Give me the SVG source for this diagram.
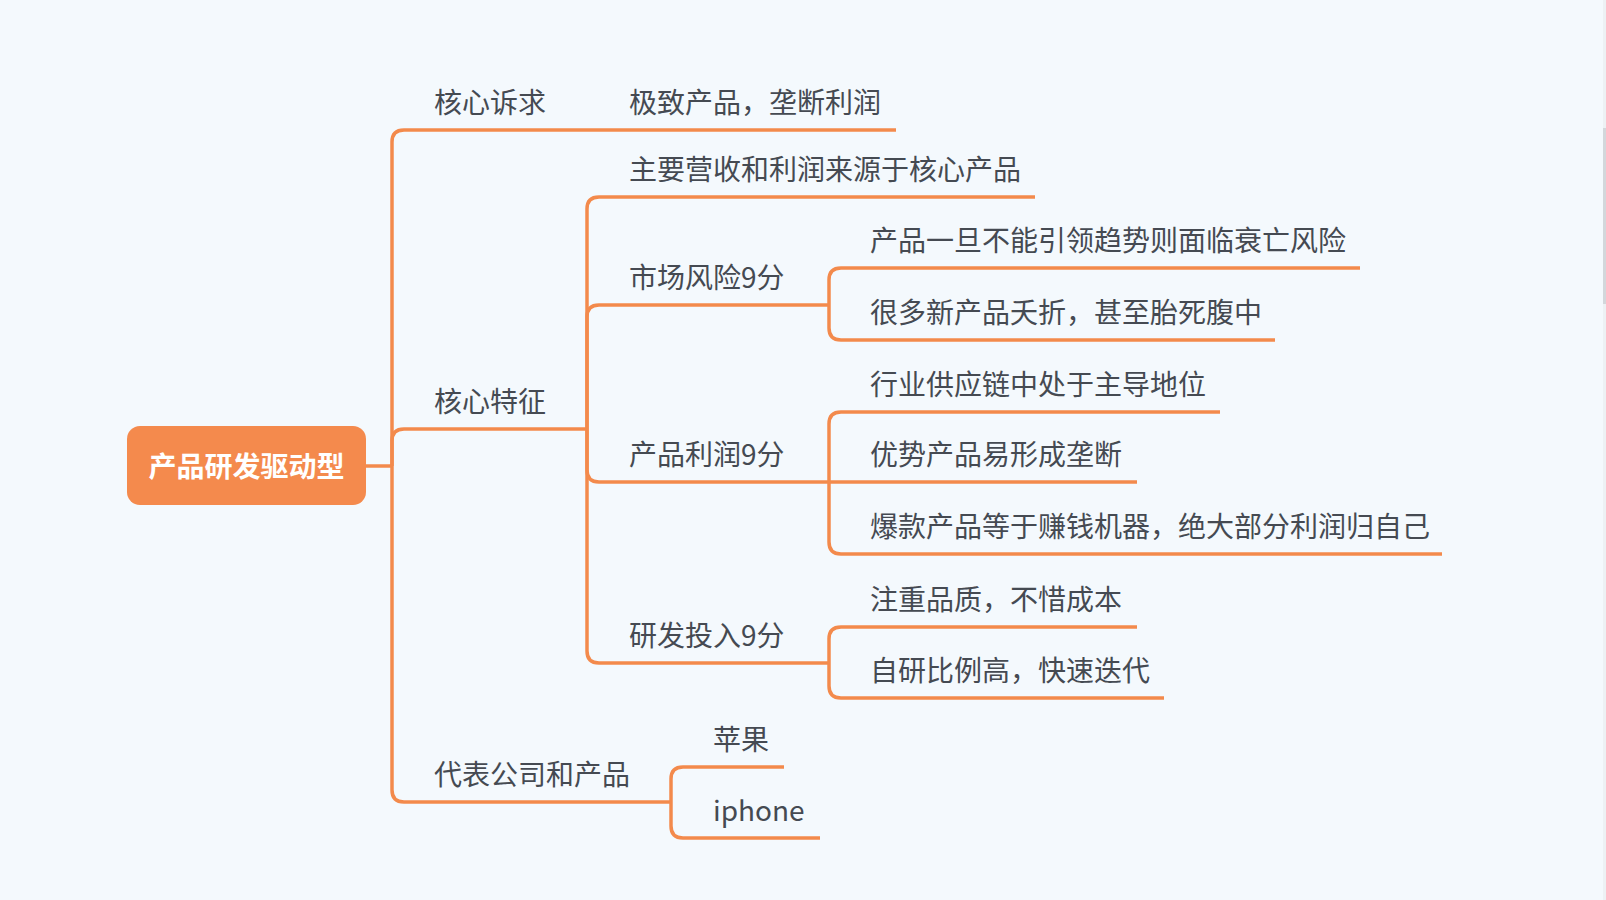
<svg xmlns="http://www.w3.org/2000/svg" width="1606" height="900" viewBox="0 0 1606 900">
<style>
.t{font-family:"Noto Sans CJK SC","Noto Sans",sans-serif;font-size:28px;fill:#454a52}
.r{font-family:"Noto Sans CJK SC","Noto Sans",sans-serif;font-size:28px;font-weight:bold;fill:#ffffff}
.c{fill:none;stroke:#F38A4C;stroke-width:3.5;stroke-linejoin:round}
</style>
<rect x="0" y="0" width="1606" height="900" fill="#F4F9FD"/>
<rect x="1603" y="0" width="3" height="900" fill="#EDF1F4"/>
<rect x="1603" y="128" width="3" height="176" fill="#D3D7DB"/>
<g id="connectors">
<path class="c" d="M366 466 L392 466"/>
<path class="c" d="M392 466 L392 142 Q392 130 404 130 L896 130"/>
<path class="c" d="M392 466 L392 441 Q392 429 404 429 L587 429"/>
<path class="c" d="M392 466 L392 790 Q392 802 404 802 L671 802"/>
<path class="c" d="M587 429 L587 209 Q587 197 599 197 L1035 197"/>
<path class="c" d="M587 429 L587 317 Q587 305 599 305 L829 305"/>
<path class="c" d="M587 429 L587 470 Q587 482 599 482 L829 482"/>
<path class="c" d="M587 429 L587 651 Q587 663 599 663 L829 663"/>
<path class="c" d="M829 305 L829 280 Q829 268 841 268 L1360 268"/>
<path class="c" d="M829 305 L829 328 Q829 340 841 340 L1275 340"/>
<path class="c" d="M829 482 L829 424 Q829 412 841 412 L1220 412"/>
<path class="c" d="M829 482 L1137 482"/>
<path class="c" d="M829 482 L829 542 Q829 554 841 554 L1442 554"/>
<path class="c" d="M829 663 L829 639 Q829 627 841 627 L1137 627"/>
<path class="c" d="M829 663 L829 686 Q829 698 841 698 L1164 698"/>
<path class="c" d="M671 802 L671 779 Q671 767 683 767 L784 767"/>
<path class="c" d="M671 802 L671 826 Q671 838 683 838 L820 838"/>
</g>
<g id="root">
<rect x="127" y="426" width="239" height="79" rx="13" fill="#F48A4D"/>
<text class="r" x="246.5" y="477" text-anchor="middle">产品研发驱动型</text>
</g>
<g id="n-hexinsuqiu"><text class="t" x="434" y="113">核心诉求</text></g>
<g id="n-jizhi"><text class="t" x="629" y="113">极致产品，垄断利润</text></g>
<g id="n-hexintezheng"><text class="t" x="434" y="412">核心特征</text></g>
<g id="n-zhuyao"><text class="t" x="629" y="180">主要营收和利润来源于核心产品</text></g>
<g id="n-shichang"><text class="t" x="629" y="288">市场风险9分</text></g>
<g id="n-chanpin1"><text class="t" x="870" y="251">产品一旦不能引领趋势则面临衰亡风险</text></g>
<g id="n-henduo"><text class="t" x="870" y="323">很多新产品夭折，甚至胎死腹中</text></g>
<g id="n-lirun"><text class="t" x="629" y="465">产品利润9分</text></g>
<g id="n-hangye"><text class="t" x="870" y="395">行业供应链中处于主导地位</text></g>
<g id="n-youshi"><text class="t" x="870" y="465">优势产品易形成垄断</text></g>
<g id="n-baokuan"><text class="t" x="870" y="537">爆款产品等于赚钱机器，绝大部分利润归自己</text></g>
<g id="n-yanfa"><text class="t" x="629" y="646">研发投入9分</text></g>
<g id="n-zhuzhong"><text class="t" x="870" y="610">注重品质，不惜成本</text></g>
<g id="n-ziyan"><text class="t" x="870" y="681">自研比例高，快速迭代</text></g>
<g id="n-daibiao"><text class="t" x="434" y="785">代表公司和产品</text></g>
<g id="n-pingguo"><text class="t" x="713" y="750">苹果</text></g>
<g id="n-iphone"><text class="t" x="713" y="821">iphone</text></g>
</svg>
